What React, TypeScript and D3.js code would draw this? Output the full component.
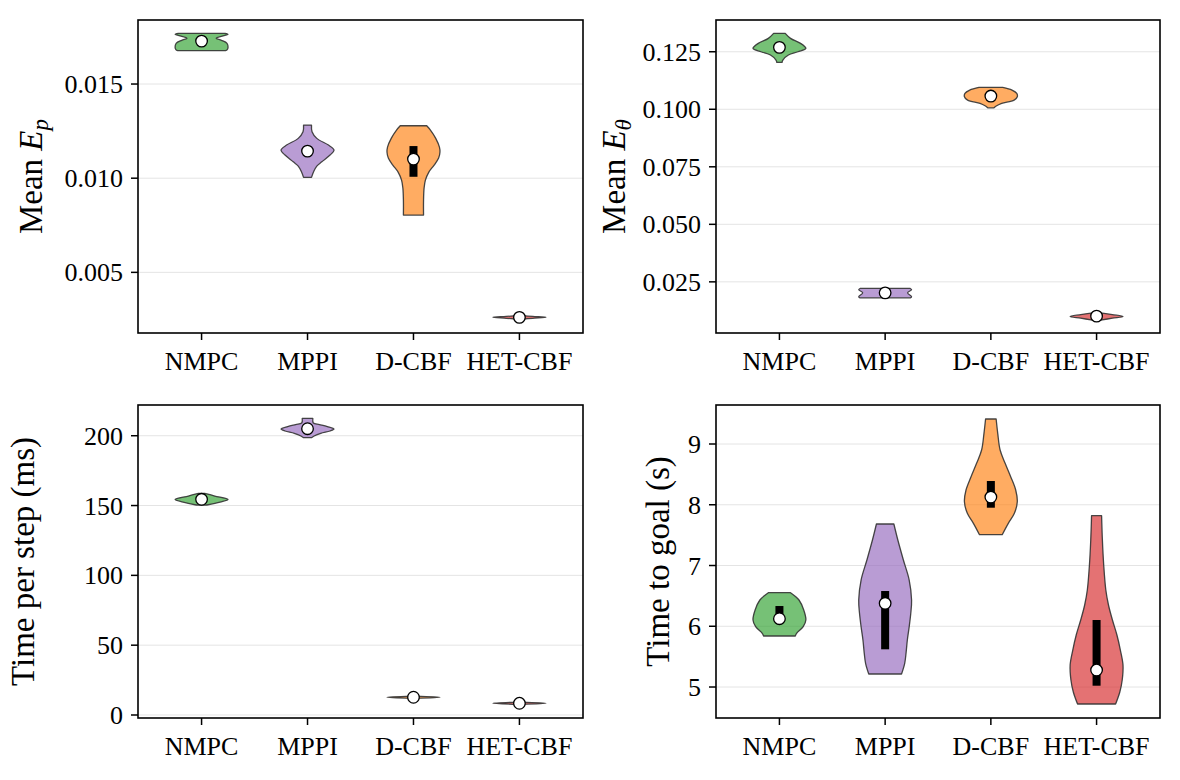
import React from "react";
import * as d3 from "d3";

// ---------- shared ----------
const categories = ["NMPC", "MPPI", "D-CBF", "HET-CBF"];
const fillColors = ["#2ca02c", "#9467bd", "#ff7f0e", "#d62728"];

// ---------- Panel 1: Mean E_p ----------
const epTicks = [0.005, 0.01, 0.015];
const epLimits = [0.00178, 0.0184];
// density profiles: [value, relative half-width]
const epProfiles: [number, number][][] = [
  [[0.01769, 0.88], [0.01764, 1.0], [0.01757, 0.85], [0.01743, 0.55], [0.01732, 0.75], [0.01716, 0.96], [0.01695, 1.0], [0.01683, 0.97], [0.01677, 0.9]],
  [[0.012822, 0.15], [0.012466, 0.17], [0.012115, 0.35], [0.011759, 0.79], [0.011493, 1.0], [0.011228, 0.85], [0.010872, 0.54], [0.010643, 0.35], [0.010341, 0.23], [0.010043, 0.15]],
  [[0.012784, 0.5], [0.012556, 0.64], [0.012115, 0.84], [0.011653, 0.98], [0.011387, 1.0], [0.011068, 0.95], [0.010696, 0.78], [0.010325, 0.58], [0.0099, 0.45], [0.009474, 0.4], [0.008837, 0.38], [0.00804, 0.38]],
  [[0.00271, 0.05], [0.00266, 0.5], [0.00261, 1.0], [0.00256, 0.5], [0.00251, 0.05]],
];
const epMedians = [0.01728, 0.01144, 0.011015, 0.00261];
const epQ1 = [0.01722, 0.01133, 0.010075, 0.002595];
const epQ3 = [0.01735, 0.01156, 0.011706, 0.002625];

// ---------- Panel 2: Mean E_theta ----------
const ethTicks = [0.025, 0.05, 0.075, 0.1, 0.125];
const ethLimits = [0.00277, 0.1388];
const ethProfiles: [number, number][][] = [
  [[0.133, 0.22], [0.130826, 0.42], [0.128652, 0.8], [0.126478, 1.0], [0.125, 0.7], [0.123565, 0.34], [0.121391, 0.13], [0.120391, 0.1]],
  [[0.02213, 0.95], [0.021609, 1.0], [0.020217, 0.85], [0.018565, 1.0], [0.018043, 0.95]],
  [[0.109522, 0.45], [0.108348, 0.8], [0.106913, 0.98], [0.105435, 1.0], [0.104, 0.88], [0.102565, 0.41], [0.101522, 0.22], [0.100652, 0.12]],
  [[0.011522, 0.15], [0.010739, 0.6], [0.009957, 1.0], [0.009217, 0.6], [0.008348, 0.15]],
];
const ethMedians = [0.126913, 0.020217, 0.105739, 0.010087];
const ethQ1 = [0.1262, 0.0199, 0.105, 0.0098];
const ethQ3 = [0.1276, 0.0205, 0.1064, 0.0104];

// ---------- Panel 3: Time per step (ms) ----------
const stepTicks = [0, 50, 100, 150, 200];
const stepLimits = [-2.15, 222.0];
const stepProfiles: [number, number][][] = [
  [[158.75, 0.12], [156.82, 0.5], [154.31, 1.0], [152.52, 0.7], [150.38, 0.2]],
  [[212.46, 0.2], [209.09, 0.22], [208.02, 0.45], [206.59, 0.75], [204.8, 1.0], [203.37, 0.85], [201.72, 0.5], [199.79, 0.25], [198.57, 0.15]],
  [[13.5, 0.05], [12.7, 1.0], [11.9, 0.05]],
  [[9.2, 0.05], [8.4, 1.0], [7.6, 0.05]],
];
const stepMedians = [154.46, 205.01, 12.7, 8.4];
const stepQ1 = [153.8, 204.3, 12.6, 8.3];
const stepQ3 = [155.2, 205.8, 12.8, 8.5];

// ---------- Panel 4: Time to goal (s) ----------
const goalTicks = [5, 6, 7, 8, 9];
const goalLimits = [4.49, 9.642];
const goalProfiles: [number, number][][] = [
  [[6.5523, 0.42], [6.4321, 0.74], [6.2675, 0.92], [6.1029, 1.0], [5.9926, 0.9], [5.884, 0.65], [5.8395, 0.6]],
  [[7.6831, 0.33], [7.4198, 0.48], [7.0905, 0.69], [6.7613, 0.91], [6.4321, 1.0], [6.2132, 0.97], [5.9926, 0.91], [5.7737, 0.84], [5.5547, 0.79], [5.3901, 0.74], [5.214, 0.62]],
  [[9.4115, 0.2], [9.1761, 0.26], [8.9012, 0.35], [8.6823, 0.54], [8.4617, 0.75], [8.2428, 0.94], [8.0502, 1.0], [7.8593, 0.89], [7.6947, 0.66], [7.507, 0.43]],
  [[7.8198, 0.19], [7.4198, 0.22], [7.0082, 0.27], [6.5967, 0.35], [6.3498, 0.45], [6.1029, 0.6], [5.856, 0.77], [5.6091, 0.9], [5.3621, 1.0], [5.1152, 0.97], [4.9177, 0.88], [4.7202, 0.72]],
];
const goalMedians = [6.1242, 6.3778, 8.1268, 5.2798];
const goalQ1 = [6.06, 5.6206, 7.9514, 5.0214];
const goalQ3 = [6.3333, 6.5802, 8.3909, 6.1029];

const FONT = "'Liberation Serif', 'DejaVu Serif', serif";
const TICK_FS = 26;
const LABEL_FS = 33;

type Box = { left: number; top: number; width: number; height: number };

function Panel(props: {
  box: Box;
  limits: number[];
  ticks: number[];
  fmt: (v: number) => string;
  profiles: [number, number][][];
  medians: number[];
  q1: number[];
  q3: number[];
  label: React.ReactNode;
  labelX: number;
  id: string;
}) {
  const { box, limits, ticks, fmt, profiles, medians, q1, q3, label, labelX, id } = props;
  const bottom = box.top + box.height;
  const right = box.left + box.width;
  const y = d3.scaleLinear().domain(limits).range([bottom, box.top]);
  const x = d3.scaleLinear().domain([-0.6, 3.6]).range([box.left, right]);
  const hw = x(0.25) - x(0);

  return (
    <g>
      <defs>
        <clipPath id={id}>
          <rect x={box.left} y={box.top} width={box.width} height={box.height} />
        </clipPath>
      </defs>
      <g clipPath={`url(#${id})`}>
        {ticks.map((t) => (
          <line key={t} x1={box.left} x2={right} y1={y(t)} y2={y(t)} stroke="#e4e4e4" strokeWidth={1} />
        ))}
        {profiles.map((prof, i) => {
          const cx = x(i);
          const area = d3
            .area<[number, number]>()
            .y((d) => y(d[0]))
            .x0((d) => cx - hw * d[1])
            .x1((d) => cx + hw * d[1])
            .curve(d3.curveCatmullRom.alpha(0.5));
          return (
            <path
              key={categories[i]}
              d={area(prof) || ""}
              fill={fillColors[i]}
              fillOpacity={0.65}
              stroke="#333"
              strokeOpacity={0.9}
              strokeWidth={1.3}
              strokeLinejoin="round"
            />
          );
        })}
        {categories.map((c, i) => (
          <rect
            key={"bar" + c}
            x={x(i) - 4}
            y={y(q3[i])}
            width={8}
            height={Math.max(0, y(q1[i]) - y(q3[i]))}
            fill="#000"
          />
        ))}
        {categories.map((c, i) => (
          <circle key={"med" + c} cx={x(i)} cy={y(medians[i])} r={5.8} fill="#fff" stroke="#000" strokeWidth={1.3} />
        ))}
      </g>
      <rect x={box.left} y={box.top} width={box.width} height={box.height} fill="none" stroke="#000" strokeWidth={1.6} />
      {ticks.map((t) => (
        <g key={"yt" + t}>
          <line x1={box.left - 7} x2={box.left} y1={y(t)} y2={y(t)} stroke="#000" strokeWidth={1.5} />
          <text
            x={box.left - 15}
            y={y(t)}
            dy="0.35em"
            textAnchor="end"
            fontFamily={FONT}
            fontSize={TICK_FS}
            fill="#000"
          >
            {fmt(t)}
          </text>
        </g>
      ))}
      {categories.map((c, i) => (
        <g key={"xt" + c}>
          <line x1={x(i)} x2={x(i)} y1={bottom} y2={bottom + 7} stroke="#000" strokeWidth={1.5} />
          <text x={x(i)} y={bottom + 37} textAnchor="middle" fontFamily={FONT} fontSize={TICK_FS} fill="#000">
            {c}
          </text>
        </g>
      ))}
      <text
        transform={`translate(${labelX},${box.top + box.height / 2}) rotate(-90)`}
        textAnchor="middle"
        fontFamily={FONT}
        fontSize={LABEL_FS}
        fill="#000"
      >
        {label}
      </text>
    </g>
  );
}

export default function App() {
  const f3 = d3.format(".3f");
  const fd = d3.format("d");
  return (
    <svg
      width={1180}
      height={780}
      style={{ position: "absolute", left: 0, top: 0, background: "#fff" }}
    >
      <rect x={0} y={0} width={1180} height={780} fill="#fff" />
      <Panel
        id="c1"
        box={{ left: 138, top: 20, width: 445, height: 313 }}
        limits={epLimits}
        ticks={epTicks}
        fmt={f3}
        profiles={epProfiles}
        medians={epMedians}
        q1={epQ1}
        q3={epQ3}
        labelX={42}
        label={
          <>
            <tspan>Mean </tspan>
            <tspan fontStyle="italic">E</tspan>
            <tspan fontStyle="italic" fontSize={LABEL_FS * 0.7} dy="0.25em">p</tspan>
          </>
        }
      />
      <Panel
        id="c2"
        box={{ left: 716, top: 20, width: 444, height: 313 }}
        limits={ethLimits}
        ticks={ethTicks}
        fmt={f3}
        profiles={ethProfiles}
        medians={ethMedians}
        q1={ethQ1}
        q3={ethQ3}
        labelX={625}
        label={
          <>
            <tspan>Mean </tspan>
            <tspan fontStyle="italic">E</tspan>
            <tspan fontStyle="italic" fontSize={LABEL_FS * 0.7} dy="0.25em">θ</tspan>
          </>
        }
      />
      <Panel
        id="c3"
        box={{ left: 138, top: 405, width: 445, height: 313 }}
        limits={stepLimits}
        ticks={stepTicks}
        fmt={fd}
        profiles={stepProfiles}
        medians={stepMedians}
        q1={stepQ1}
        q3={stepQ3}
        labelX={34}
        label="Time per step (ms)"
      />
      <Panel
        id="c4"
        box={{ left: 716, top: 405, width: 444, height: 313 }}
        limits={goalLimits}
        ticks={goalTicks}
        fmt={fd}
        profiles={goalProfiles}
        medians={goalMedians}
        q1={goalQ1}
        q3={goalQ3}
        labelX={669}
        label="Time to goal (s)"
      />
    </svg>
  );
}
